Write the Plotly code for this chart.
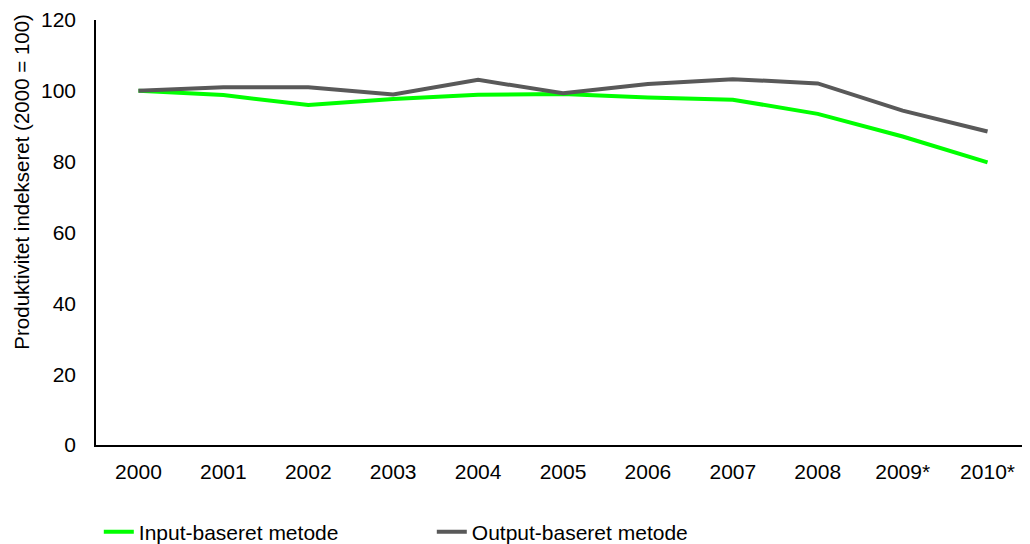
import plotly.graph_objects as go

years = ["2000", "2001", "2002", "2003", "2004", "2005", "2006", "2007", "2008", "2009*", "2010*"]
input_based = [100, 98.8, 96.0, 97.7, 98.9, 99.1, 98.1, 97.5, 93.5, 87.1, 79.8]
output_based = [100, 101.0, 101.0, 99.0, 103.1, 99.3, 101.9, 103.3, 102.1, 94.4, 88.5]

font_name = "Liberation Sans, Arial, sans-serif"

fig = go.Figure()
fig.add_trace(go.Scatter(
    x=years, y=input_based, name="Input-baseret metode",
    mode="lines", line=dict(color="#00FF00", width=4),
))
fig.add_trace(go.Scatter(
    x=years, y=output_based, name="Output-baseret metode",
    mode="lines", line=dict(color="#595959", width=4),
))

# page body has an 8px margin, so the figure is a bit smaller than the window
fig.update_layout(
    width=1022,
    height=536,
    margin=dict(l=88, r=0, t=12, b=99, autoexpand=False),
    plot_bgcolor="white",
    paper_bgcolor="white",
    font=dict(family=font_name, size=21, color="black"),
    showlegend=True,
    legend=dict(
        orientation="h",
        x=0.003, xanchor="left",
        y=-0.205, yanchor="middle",
        entrywidth=288,
        font=dict(size=21),
    ),
    annotations=[dict(
        text="Produktivitet indekseret (2000 = 100)",
        textangle=-90,
        xref="paper", yref="paper",
        x=-0.0795, y=0.619,
        xanchor="center", yanchor="middle",
        showarrow=False,
        font=dict(size=20.5),
    )],
)

fig.update_xaxes(
    type="category",
    range=[-0.5, 10.5],
    showline=True, linecolor="black", linewidth=1.5,
    showgrid=False, zeroline=False,
    ticks="", ticklabelstandoff=7,
)
fig.update_yaxes(
    range=[0, 120],
    dtick=20,
    showline=True, linecolor="black", linewidth=1.5,
    showgrid=False, zeroline=False,
    ticks="", ticklabelstandoff=14,
)

fig.write_html("out.html")
